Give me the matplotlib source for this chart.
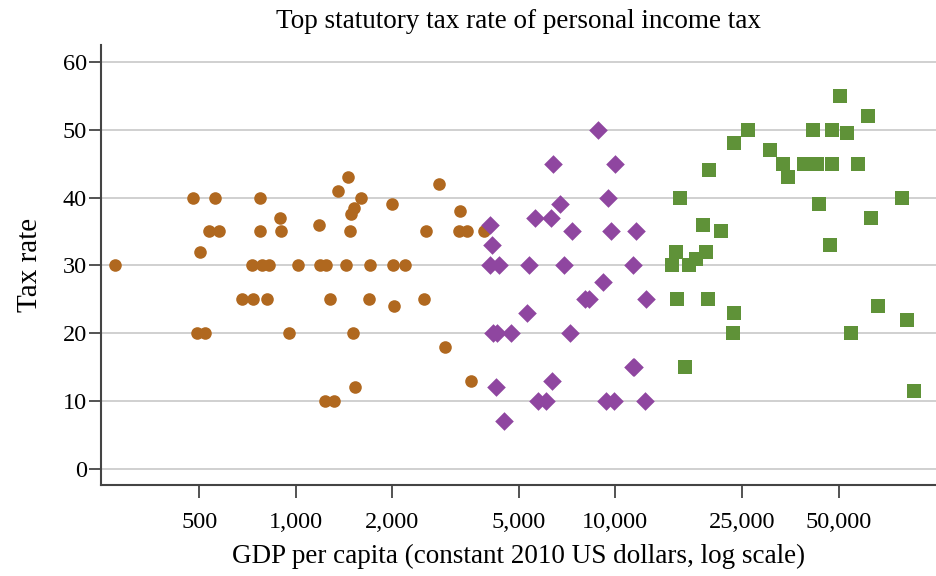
import matplotlib.pyplot as plt
from matplotlib.ticker import FixedLocator, NullLocator

plt.rcParams['font.family'] = ['Liberation Serif', 'DejaVu Serif']

# low income countries (circles)
low_gdp = [272, 476, 558, 772, 535, 575, 503, 772, 894, 902, 1180, 1353, 1459,
           1603, 1520, 1490, 1484, 2004, 728, 786, 828, 1014, 1189, 1245, 1438,
           1704, 2011, 2203, 677, 734, 815, 1277, 1701, 2027, 492, 520, 955,
           1517, 1530, 1233, 1315, 2800, 3273, 2566, 3236, 3435, 3890, 2530,
           2937, 3540]
low_rate = [30, 40, 40, 40, 35, 35, 32, 35, 37, 35, 36, 41, 43,
            40, 38.5, 37.5, 35, 39, 30, 30, 30, 30, 30, 30, 30,
            30, 30, 30, 25, 25, 25, 25, 25, 24, 20, 20, 20,
            20, 12, 10, 10, 42, 38, 35, 35, 35, 35, 25,
            18, 13]

# middle income countries (diamonds)
mid_gdp = [8825, 6368, 9950, 9460, 6730, 5600, 6310, 4065, 7310, 9690, 11630,
           4110, 4065, 4335, 5355, 6935, 11400, 9140, 8050, 8300, 12480, 5300,
           4160, 4270, 4730, 7230, 11330, 11490, 4240, 6340, 5750, 6080, 9350,
           9890, 12420, 4480]
mid_rate = [50, 45, 45, 40, 39, 37, 37, 36, 35, 35, 35,
            33, 30, 30, 30, 30, 30, 27.5, 25, 25, 25, 23,
            20, 20, 20, 20, 15, 15, 12, 13, 10, 10, 10,
            10, 10, 7]

# high income countries (squares)
high_gdp = [50470, 61650, 26100, 41700, 47560, 52970, 23550, 30550, 33420,
            39000, 40900, 42900, 47560, 57650, 34650, 19720, 15960, 79050,
            43450, 63100, 18800, 21400, 46900, 15530, 19230, 17900, 15030,
            17070, 15600, 19480, 66200, 81800, 23550, 23290, 54600, 16500,
            85900]
high_rate = [55, 52, 50, 50, 50, 49.5, 48, 47, 45,
             45, 45, 45, 45, 45, 43, 44, 40, 40,
             39, 37, 36, 35, 33, 32, 32, 31, 30,
             30, 25, 25, 24, 22, 23, 20, 20, 15,
             11.5]

x_ticks = [500, 1000, 2000, 5000, 10000, 25000, 50000]
x_tick_labels = ['500', '1,000', '2,000', '5,000', '10,000', '25,000', '50,000']
y_ticks = [0, 10, 20, 30, 40, 50, 60]

fig = plt.figure(figsize=(9.37, 5.76), dpi=100)
ax = fig.add_axes([101 / 937, 1 - 485 / 576, 836 / 937, 440 / 576])

ax.scatter(low_gdp, low_rate, marker='o', s=82, color='#B0681F', linewidths=0, zorder=3)
ax.scatter(mid_gdp, mid_rate, marker='D', s=90, color='#8F46A0', linewidths=0, zorder=3)
ax.scatter(high_gdp, high_rate, marker='s', s=100, color='#5F9238', linewidths=0, zorder=3)

ax.set_xscale('log')
ax.set_xlim(246, 101600)
ax.set_ylim(-2.4, 62.5)
ax.xaxis.set_major_locator(FixedLocator(x_ticks))
ax.xaxis.set_minor_locator(NullLocator())
ax.set_xticklabels(x_tick_labels)
ax.set_yticks(y_ticks)

ax.grid(axis='y', color='#d0d0d0', linewidth=1.4, zorder=0)
ax.set_axisbelow(True)
for side in ['top', 'right']:
    ax.spines[side].set_visible(False)
for side in ['left', 'bottom']:
    ax.spines[side].set_color('#444444')
    ax.spines[side].set_linewidth(1.5)

ax.tick_params(axis='x', length=9.5, width=1.3, color='#444444', labelsize=17.5, pad=10)
ax.tick_params(axis='y', length=9, width=1.3, color='#444444', labelsize=17.5, pad=1)

ax.set_title('Top statutory tax rate of personal income tax', fontsize=19.5, pad=12)
ax.set_xlabel('GDP per capita (constant 2010 US dollars, log scale)', fontsize=19.5, labelpad=8)
ax.set_ylabel('Tax rate', fontsize=21, labelpad=14)

fig.savefig('out.png', dpi=100)
